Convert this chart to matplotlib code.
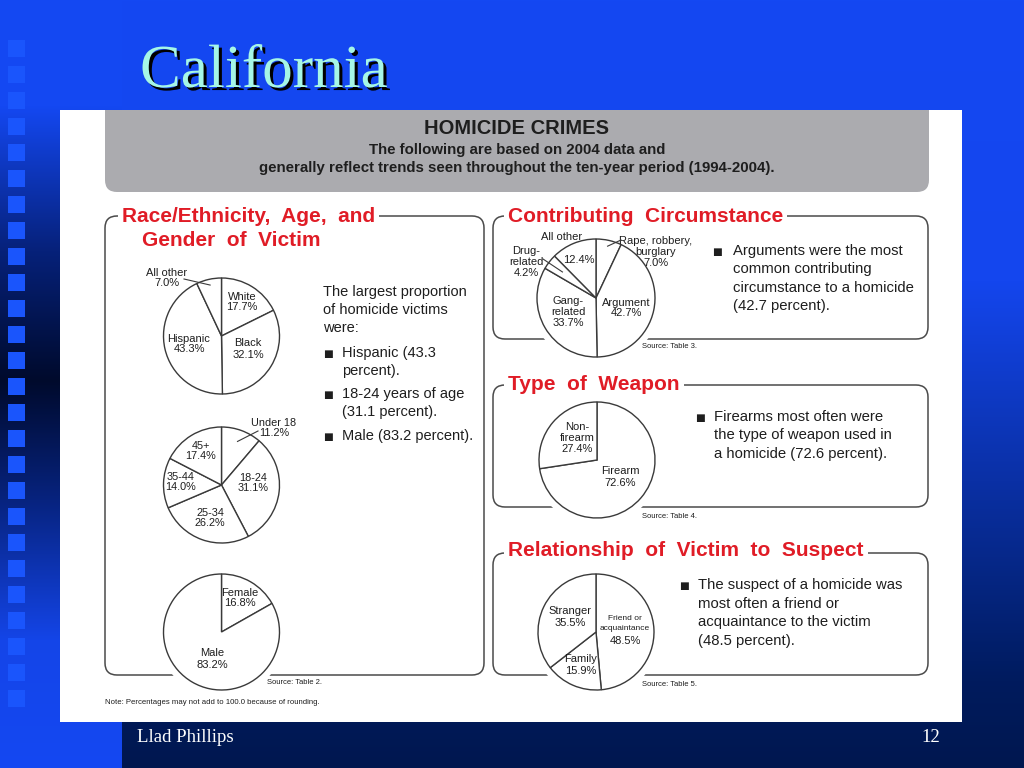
import numpy as np
import matplotlib.pyplot as plt
import matplotlib.patheffects as pe
from matplotlib.patches import FancyBboxPatch, Rectangle, Circle

# ---- data ----
race_labels = ['White', 'Black', 'Hispanic', 'All other']
race_values = [17.7, 32.1, 43.3, 7.0]

age_labels = ['Under 18', '18-24', '25-34', '35-44', '45+']
age_values = [11.2, 31.1, 26.2, 14.0, 17.4]

gender_labels = ['Female', 'Male']
gender_values = [16.8, 83.2]

circ_labels = ['Rape, robbery,\nburglary', 'Argument', 'Gang-\nrelated', 'Drug-\nrelated', 'All other']
circ_values = [7.0, 42.7, 33.7, 4.2, 12.4]

weapon_labels = ['Firearm', 'Non-\nfirearm']
weapon_values = [72.6, 27.4]

rel_labels = ['Friend or\nacquaintance', 'Family', 'Stranger']
rel_values = [48.5, 15.9, 35.5]

W, H = 1024, 768
SANS = ['Liberation Sans', 'DejaVu Sans']
SERIF = ['Liberation Serif', 'DejaVu Serif']
RED = '#e01c26'
INK = '#1e1e1e'
EDGE = '#3a3a3a'

fig = plt.figure(figsize=(W / 100, H / 100), dpi=100)
ax = fig.add_axes([0, 0, 1, 1])
ax.set_xlim(0, W)
ax.set_ylim(H, 0)
ax.axis('off')


def hex2rgb(h):
    h = h.lstrip('#')
    return [int(h[i:i + 2], 16) / 255 for i in (0, 2, 4)]


def gradient(stops_y, stops_c):
    ys = np.arange(H)
    cols = np.array([hex2rgb(c) for c in stops_c])
    return np.stack([np.interp(ys, stops_y, cols[:, k]) for k in range(3)], axis=1)


# ---- slide background ----
main = gradient([0, 280, 480, 680, 768],
                ['#1448f2', '#1446ee', '#0a30a5', '#001b5e', '#00174f'])
strip = gradient([0, 105, 250, 380, 500, 640, 768],
                 ['#1448f2', '#1448f2', '#06217a', '#000a2c', '#07237f', '#1445e8', '#1448f2'])
bg = np.repeat(main[:, None, :], W, axis=1)
bg[:, :122, :] = strip[:, None, :]
ax.imshow(bg, extent=(0, W, H, 0), aspect='auto', zorder=0)

for y in np.arange(40, 700, 26):
    ax.add_patch(Rectangle((8, y), 17, 17, facecolor='#1a55fc', edgecolor='none', zorder=1))

# title with drop shadow
ax.text(140, 87, 'California', family=SERIF, fontsize=44, color='#a6f6e6', zorder=3,
        path_effects=[pe.withSimplePatchShadow(offset=(2.2, -2.2), shadow_rgbFace='black', alpha=1.0)])

ax.text(137, 738, 'Llad Phillips', family=SERIF, fontsize=13.5, color='white', va='center', zorder=3)
ax.text(931, 737, '12', family=SERIF, fontsize=13.5, color='white', va='center', ha='center', zorder=3)

# ---- white page ----
page = Rectangle((60, 110), 902, 612, facecolor='white', edgecolor='none', zorder=2)
ax.add_patch(page)

hdr = FancyBboxPatch((105, 90), 824, 102, boxstyle='round,pad=0,rounding_size=12',
                     facecolor='#ababaf', edgecolor='none', zorder=3)
ax.add_patch(hdr)
hdr.set_clip_path(page)
ax.text(517, 128, 'HOMICIDE CRIMES', family=SANS, fontweight='bold', fontsize=14.5, color=INK,
        ha='center', va='center', zorder=4)
ax.text(517, 150, 'The following are based on 2004 data and', family=SANS, fontweight='bold',
        fontsize=10.8, color=INK, ha='center', va='center', zorder=4)
ax.text(517, 168, 'generally reflect trends seen throughout the ten-year period (1994-2004).',
        family=SANS, fontweight='bold', fontsize=10.8, color=INK, ha='center', va='center', zorder=4)


def frame(x0, y0, x1, y1):
    ax.add_patch(FancyBboxPatch((x0, y0), x1 - x0, y1 - y0,
                                boxstyle='round,pad=0,rounding_size=12',
                                fill=False, edgecolor='#4a4a4a', linewidth=1.1, zorder=4))


def title(x, y, s):
    ax.text(x, y, s, family=SANS, fontweight='bold', fontsize=15, color=RED, va='center',
            zorder=6, bbox=dict(facecolor='white', edgecolor='none', pad=3))


frame(105, 216, 484, 675)
title(122, 216, 'Race/Ethnicity,  Age,  and')
ax.text(142, 240, 'Gender  of  Victim', family=SANS, fontweight='bold', fontsize=15,
        color=RED, va='center', zorder=6)

frame(493, 216, 928, 339)
title(508, 216, 'Contributing  Circumstance')
frame(493, 385, 928, 507)
title(508, 384, 'Type  of  Weapon')
frame(493, 553, 928, 675)
title(508, 551, 'Relationship  of  Victim  to  Suspect')


def pie(values, cx, cy, r):
    ax.add_patch(Circle((cx, cy), r + 7, facecolor='white', edgecolor='none', zorder=5))
    wedges, _ = ax.pie(values, center=(cx, cy), radius=r, startangle=-90, counterclock=True,
                       colors=['white'] * len(values), frame=True,
                       wedgeprops=dict(edgecolor=EDGE, linewidth=1.0))
    for w in wedges:
        w.set_zorder(6)
    return wedges


def mid_point(values, i, cx, cy, r, f):
    tot = sum(values)
    a = (sum(values[:i]) + values[i] / 2) / tot * 2 * np.pi
    return cx + f * r * np.sin(a), cy - f * r * np.cos(a)


def label(x, y, name, value, fs=8, dy=11):
    rows = name.split('\n') + ['%.1f%%' % value]
    y0 = y - dy * (len(rows) - 1) / 2
    for i, s in enumerate(rows):
        ax.text(x, y0 + i * dy, s, family=SANS, fontsize=fs, color=INK,
                ha='center', va='center', zorder=7)


def leader(start, values, i, cx, cy, r, f):
    end = mid_point(values, i, cx, cy, r, f)
    ax.plot([start[0], end[0]], [start[1], end[1]], color=EDGE, linewidth=0.8, zorder=7)


def text_rows(x, y0, dy, rows, fs=10.7):
    for i, s in enumerate(rows):
        ax.text(x, y0 + i * dy, s, family=SANS, fontsize=fs, color=INK, va='center', zorder=7)


def bullet(x, y):
    ax.text(x, y, '\u25a0', family=['DejaVu Sans'], fontsize=7.5, color=INK,
            ha='center', va='center', zorder=7)


# ---- race / age / gender ----
pie(race_values, 221.5, 336, 58)
race_pos = [(242, 302), (248, 349), (189, 344), (167, 278)]
for (x, y), n, v in zip(race_pos, race_labels, race_values):
    label(x, y, n, v)
leader((184, 279), race_values, 3, 221.5, 336, 58, 0.9)

pie(age_values, 221.5, 485, 58)
age_pos = [(274, 428), (253, 483), (210, 518), (181, 482), (201, 451)]
for (x, y), n, v in zip(age_pos, age_labels, age_values):
    label(x, y, n, v, fs=7.8, dy=10)
leader((258, 431), age_values, 0, 221.5, 485, 58, 0.8)

pie(gender_values, 221.5, 632, 58)
gender_pos = [(240, 598), (212, 659)]
for (x, y), n, v in zip(gender_pos, gender_labels, gender_values):
    label(x, y, n, v)

text_rows(323, 292, 18, ['The largest proportion', 'of homicide victims', 'were:'], fs=10.5)
bullet(328, 354)
text_rows(342, 353, 18, ['Hispanic (43.3', 'percent).'], fs=10.5)
bullet(328, 395)
text_rows(342, 394, 18, ['18-24 years of age', '(31.1 percent).'], fs=10.5)
bullet(328, 437)
text_rows(342, 436, 18, ['Male (83.2 percent).'], fs=10.5)

ax.text(267, 683, 'Source: Table 2.', family=SANS, fontsize=5.5, color=INK, va='center', zorder=7)
ax.text(105, 702, 'Note: Percentages may not add to 100.0 because of rounding.', family=SANS,
        fontsize=5.6, color=INK, va='center', zorder=7)

# ---- contributing circumstance ----
pie(circ_values, 596, 298, 59)
circ_pos = [(656, 252), (626, 308), (568, 312), (526, 262), None]
for p, n, v in zip(circ_pos, circ_labels, circ_values):
    if p is not None:
        label(p[0], p[1], n, v)
ax.text(562, 237, circ_labels[4], family=SANS, fontsize=8, color=INK, ha='center', va='center', zorder=7)
ax.text(579, 260, '%.1f%%' % circ_values[4], family=SANS, fontsize=8, color=INK,
        ha='center', va='center', zorder=7)
leader((621, 240), circ_values, 0, 596, 298, 59, 0.9)
leader((543, 259), circ_values, 3, 596, 298, 59, 0.72)

bullet(717, 252)
text_rows(733, 251, 18.3, ['Arguments were the most', 'common contributing',
                           'circumstance to a homicide', '(42.7 percent).'])
ax.text(642, 347, 'Source: Table 3.', family=SANS, fontsize=5.5, color=INK, va='center', zorder=7)

# ---- type of weapon ----
pie(weapon_values, 597, 460, 58)
weapon_pos = [(620, 477), (577, 438)]
for (x, y), n, v in zip(weapon_pos, weapon_labels, weapon_values):
    label(x, y, n, v)
bullet(700, 418)
text_rows(714, 417, 18.5, ['Firearms most often were', 'the type of weapon used in',
                           'a homicide (72.6 percent).'])
ax.text(642, 516, 'Source: Table 4.', family=SANS, fontsize=5.5, color=INK, va='center', zorder=7)

# ---- relationship ----
pie(rel_values, 596, 632, 58)
ax.text(625, 618, 'Friend or', family=SANS, fontsize=6, color=INK, ha='center', va='center', zorder=7)
ax.text(625, 629, 'acquaintance', family=SANS, fontsize=6, color=INK, ha='center', va='center', zorder=7)
ax.text(625, 641, '%.1f%%' % rel_values[0], family=SANS, fontsize=8, color=INK,
        ha='center', va='center', zorder=7)
rel_pos = [None, (581, 665), (570, 617)]
for p, n, v in zip(rel_pos, rel_labels, rel_values):
    if p is not None:
        label(p[0], p[1], n, v)
bullet(684, 586)
text_rows(698, 585, 18.5, ['The suspect of a homicide was', 'most often a friend or',
                           'acquaintance to the victim', '(48.5 percent).'])
ax.text(642, 684, 'Source: Table 5.', family=SANS, fontsize=5.5, color=INK, va='center', zorder=7)

ax.set_xlim(0, W)
ax.set_ylim(H, 0)
ax.axis('off')
fig.savefig('out.png', dpi=100)
